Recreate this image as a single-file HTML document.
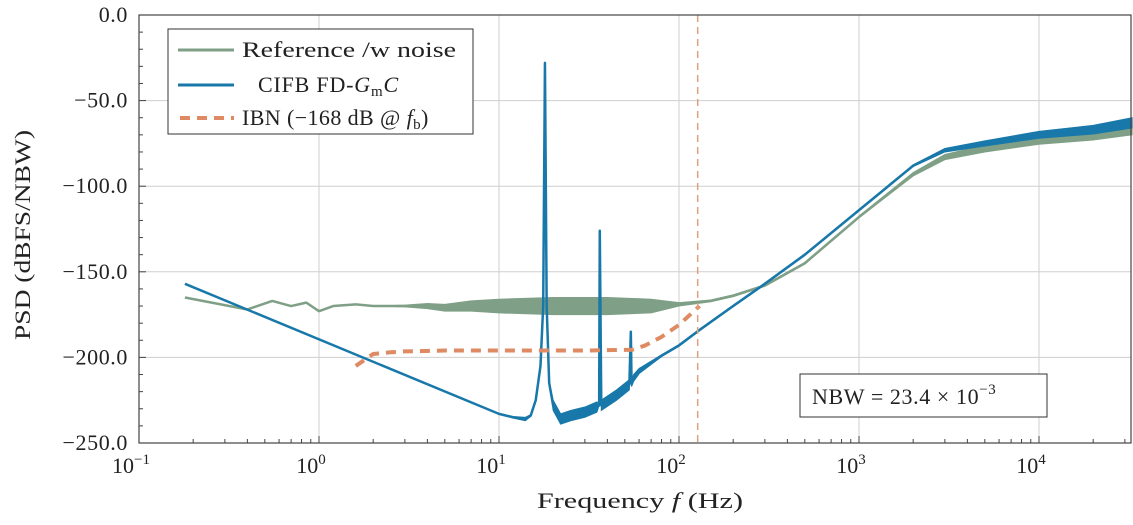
<!DOCTYPE html>
<html><head><meta charset="utf-8"><style>
body{margin:0;background:#fff;}
svg text{font-family:"Liberation Serif",serif;fill:#222;}
</style></head><body>
<svg id="chart" width="1133" height="525" viewBox="0 0 1133 525" xmlns="http://www.w3.org/2000/svg" style="position:absolute;left:0;top:0">
<g id="grid"></g>
<g id="series"></g>
<g id="axes"></g>
</svg>
<script>
const refF=[0.18,0.4,0.55,0.7,0.85,1,1.2,1.6,2,3,4,5,7,10,20,40,70,100,150,200,300,500,1000,2000,3000,5000,10000,20000,32900];
const refV=[-165,-172,-167,-170,-168,-173,-170,-169,-170,-170,-170,-171,-170,-170,-170,-170,-170,-169,-167,-164,-158,-145,-118,-93,-83,-78,-73,-70,-67];
const refSpread=[0,0,0,0,0,0,0,0,0,0.5,1.5,2,3,4,5,5,4,1,0.5,0.5,0.5,0.5,0.5,1,1.5,2,2.5,3,3];
const blueF=[0.18,10,12,14,15,16,17,17.6,18,18.4,19,20,22,25,30,35,36,36.3,37,45,53,54,54.5,56,60,80,100,130,200,300,500,1000,2000,3000,5000,10000,20000,32900];
const blueV=[-157,-233,-235,-236,-234,-225,-205,-170,-28,-170,-215,-228,-236,-234,-232,-229,-228,-126,-228,-222,-216,-185,-215,-212,-208,-199,-193,-184,-170,-157,-140,-114,-88,-79,-75,-70,-67,-63];
const blueSpread=[0,0,0.5,1,0.5,0,0,0,0,0,1,3,3,3,3,3,0,0,3,3,3,0,2,2,1.5,0.5,0.5,0.5,0.5,0.5,0.5,0.5,0.5,1,1.5,2,2.5,3];
const ibnF=[1.6,2,2.5,3,5,10,30,55,65,80,100,130];
const ibnV=[-205,-198,-197,-196.5,-196,-196,-196,-195.5,-193,-188,-181,-170];
const xTicks=[0.1,1,10,100,1000,10000];
const xTickLabels=[["10","−1"],["10","0"],["10","1"],["10","2"],["10","3"],["10","4"]];
const yTicks=[0,-50,-100,-150,-200,-250];
const yTickLabels=["0.0","−50.0","−100.0","−150.0","−200.0","−250.0"];
const fbMark=127;

const X0=139,X1=1131,Y0=15,Y1=443,PD=180;
const xs=f=>X0+(Math.log10(f)+1)*PD;
const ys=v=>Y0+(-v)/250*(Y1-Y0);
const NS="http://www.w3.org/2000/svg";
function mk(tag,attrs,parent){const e=document.createElementNS(NS,tag);for(const k in attrs)e.setAttribute(k,attrs[k]);parent.appendChild(e);return e;}
const grid=document.getElementById('grid'),ser=document.getElementById('series'),ax=document.getElementById('axes');

xTicks.forEach((t,i)=>{
  if(i>0){const l=mk('line',{x1:xs(t),x2:xs(t),y1:Y0,y2:Y1,stroke:'#cfcfcf','stroke-width':1},grid);
  
  }
  const tx=mk('text',{x:xs(t)-8,y:473,'font-size':22,'text-anchor':'middle'},ax);
  
  
  tx.textContent=xTickLabels[i][0];
  const sp=mk('tspan',{dy:-9,'font-size':15},tx);sp.textContent=xTickLabels[i][1];
  mk('line',{x1:xs(t),x2:xs(t),y1:Y1,y2:Y1-7,stroke:'#444'},ax);
  for(let m=2;m<10;m++){const xf=xs(t*m);if(xf<X1)mk('line',{x1:xf,x2:xf,y1:Y1,y2:Y1-4,stroke:'#444'},ax);}
});
yTicks.forEach((t,i)=>{
  if(i>0&&i<yTicks.length-1){const l=mk('line',{x1:X0,x2:X1,y1:ys(t),y2:ys(t),stroke:'#cfcfcf','stroke-width':1},grid);
  
  }
  const tx=mk('text',{x:128,y:ys(t)+7,'font-size':22,'text-anchor':'end','letter-spacing':0.6},ax);
  
  
  tx.textContent=yTickLabels[i];
  mk('line',{x1:X0,x2:X0+7,y1:ys(t),y2:ys(t),stroke:'#444'},ax);
});
for(let v=-10;v>-250;v-=10){if(v%50)mk('line',{x1:X0,x2:X0+4,y1:ys(v),y2:ys(v),stroke:'#444'},ax);}

function band(F,V,S,color,name){
  let top=F.map((f,i)=>xs(f)+','+ys(V[i]+S[i]));
  let bot=F.map((f,i)=>xs(f)+','+ys(V[i]-S[i])).reverse();
  const p=mk('polygon',{points:top.concat(bot).join(' '),fill:color,stroke:color,'stroke-width':1},ser);
  
  
}
function line(F,V,color,w,dash,name){
  const p=mk('polyline',{points:F.map((f,i)=>xs(f)+','+ys(V[i])).join(' '),fill:'none',stroke:color,'stroke-width':w,'stroke-dasharray':dash||'none','stroke-linejoin':'round'},ser);
  
  
}
band(refF,refV,refSpread,'#7fa086','reference-noise-band');
line(refF,refV,'#7fa086',2.5,null,'reference-line');
band(blueF,blueV,blueSpread,'#1878aa','cifb-noise-band');
line(blueF,blueV,'#1878aa',2.5,null,'cifb-line');
line(ibnF,ibnV,'#de8a63',4,'10,7','ibn-line');
const vl=mk('line',{x1:xs(fbMark),x2:xs(fbMark),y1:Y0,y2:Y1,stroke:'#e0a080','stroke-width':1.5,'stroke-dasharray':'7,5'},ser);


mk('rect',{x:X0,y:Y0,width:X1-X0,height:Y1-Y0,fill:'none',stroke:'#444','stroke-width':1.2},ax);
</script>
<svg style="position:absolute;left:0;top:0" width="1133" height="525">
<g>
<rect x="168" y="29" width="305" height="105" fill="#fff" stroke="#333" stroke-width="1"/>
<line x1="178" y1="50" x2="234" y2="50" stroke="#7fa086" stroke-width="3"/>
<text x="242" y="57" font-size="22" textLength="214" lengthAdjust="spacingAndGlyphs" font-family="Liberation Serif,serif" fill="#222">Reference /w noise</text>
<line x1="178" y1="85" x2="234" y2="85" stroke="#1878aa" stroke-width="3"/>
<text x="258" y="92" font-size="22" font-family="Liberation Serif,serif" fill="#222" letter-spacing="0.8">CIFB FD-<tspan font-style="italic">G</tspan><tspan font-size="15" dy="4">m</tspan><tspan font-style="italic" dy="-4">C</tspan></text>
<line x1="180" y1="118" x2="234" y2="118" stroke="#de8a63" stroke-width="4" stroke-dasharray="10,7"/>
<text x="242" y="125" font-size="22" font-family="Liberation Serif,serif" fill="#222" letter-spacing="0.4">IBN (−168 dB @ <tspan font-style="italic">f</tspan><tspan font-size="15" dy="4">b</tspan><tspan dy="-4">)</tspan></text>
</g>
<g>
<rect x="800" y="374" width="247" height="43" fill="#fff" stroke="#333"/>
<text x="812" y="404" font-size="22" font-family="Liberation Serif,serif" fill="#222" letter-spacing="0.6">NBW = 23.4 × 10<tspan font-size="15" dy="-10">−3</tspan></text>
</g>
<text x="537" y="508" font-size="22" textLength="206" lengthAdjust="spacingAndGlyphs" font-family="Liberation Serif,serif" fill="#222">Frequency <tspan font-style="italic">f</tspan> (Hz)</text>
<text transform="translate(30,340) rotate(-90)" font-size="22" textLength="210" lengthAdjust="spacingAndGlyphs" font-family="Liberation Serif,serif" fill="#222">PSD (dBFS/NBW)</text>
</svg>
</body></html>
